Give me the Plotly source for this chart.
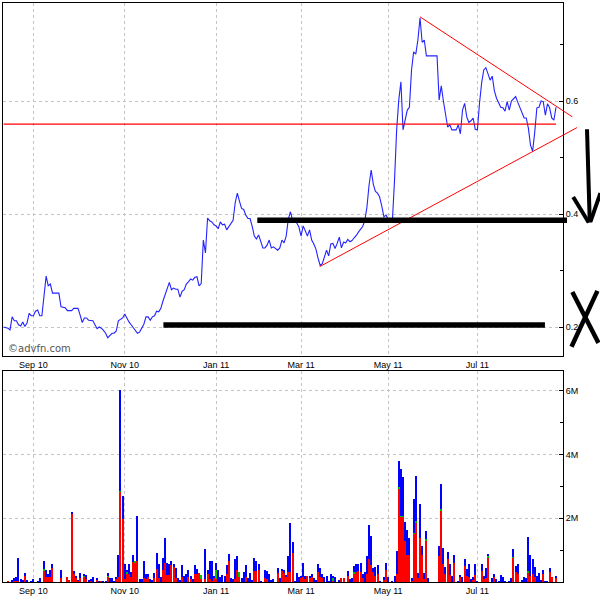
import numpy as np
import pandas as pd
import plotly.graph_objects as go

# ---------------- data ----------------
START = "2010-08-11"
HOLIDAYS = ["2010-08-30", "2010-12-27", "2010-12-28", "2011-01-03", "2011-04-22",
            "2011-04-25", "2011-04-29", "2011-05-02", "2011-05-30", "2011-08-29"]

TICK_MONTHS = ["2010-09", "2010-11", "2011-01", "2011-03", "2011-05", "2011-07"]
TICK_LABELS = ["Sep 10", "Nov 10", "Jan 11", "Mar 11", "May 11", "Jul 11"]

PRICE = [
    0.200, 0.199, 0.198, 0.195, 0.218, 0.211, 0.211, 0.204, 0.202, 0.209,
    0.201, 0.207, 0.224, 0.220, 0.220, 0.228, 0.230, 0.220, 0.220, 0.255,
    0.290, 0.273, 0.276, 0.260, 0.260, 0.260, 0.260, 0.236, 0.235, 0.234,
    0.229, 0.229, 0.229, 0.233, 0.233, 0.233, 0.221, 0.208, 0.216, 0.216,
    0.212, 0.211, 0.211, 0.204, 0.197, 0.200, 0.198, 0.194, 0.189, 0.181,
    0.186, 0.189, 0.189, 0.193, 0.211, 0.214, 0.216, 0.223, 0.215, 0.209,
    0.204, 0.199, 0.193, 0.189, 0.191, 0.197, 0.205, 0.218, 0.218, 0.212,
    0.218, 0.220, 0.228, 0.227, 0.233, 0.246, 0.258, 0.270, 0.279, 0.266,
    0.269, 0.267, 0.267, 0.253, 0.263, 0.266, 0.276, 0.280, 0.285, 0.283,
    0.288, 0.289, 0.273, 0.277, 0.354, 0.331, 0.393, 0.388, 0.386, 0.381,
    0.379, 0.374, 0.386, 0.381, 0.382, 0.372, 0.378, 0.382, 0.389, 0.420,
    0.437, 0.423, 0.410, 0.408, 0.398, 0.392, 0.392, 0.378, 0.361, 0.356,
    0.363, 0.352, 0.340, 0.340, 0.345, 0.354, 0.340, 0.342, 0.339, 0.336,
    0.340, 0.354, 0.349, 0.361, 0.391, 0.404, 0.389, 0.386, 0.384, 0.377,
    0.361, 0.379, 0.369, 0.361, 0.372, 0.354, 0.347, 0.338, 0.322, 0.309,
    0.312, 0.324, 0.336, 0.326, 0.347, 0.348, 0.339, 0.348, 0.359, 0.340,
    0.350, 0.349, 0.355, 0.351, 0.353, 0.358, 0.362, 0.368, 0.374, 0.378,
    0.388, 0.412, 0.451, 0.478, 0.453, 0.440, 0.437, 0.430, 0.414, 0.395,
    0.398, 0.391, 0.389, 0.389, 0.460, 0.549, 0.602, 0.634, 0.549, 0.566,
    0.584, 0.589, 0.655, 0.687, 0.683, 0.708, 0.747, 0.704, 0.708, 0.680,
    0.680, 0.680, 0.680, 0.680, 0.680, 0.602, 0.627, 0.600, 0.572, 0.554,
    0.558, 0.549, 0.549, 0.549, 0.558, 0.542, 0.584, 0.596, 0.572, 0.562,
    0.565, 0.570, 0.550, 0.549, 0.596, 0.632, 0.655, 0.659, 0.648, 0.637,
    0.644, 0.618, 0.605, 0.596, 0.589, 0.588, 0.582, 0.599, 0.584, 0.600,
    0.604, 0.608, 0.598, 0.589, 0.579, 0.570, 0.570, 0.552, 0.522, 0.511,
    0.545, 0.588, 0.589, 0.600, 0.599, 0.575, 0.595, 0.588, 0.570, 0.566,
    0.589,
]

# volume in millions of shares
VOL_TOTAL = [
    0, 0, 0.03, 0, 0.07, 0.14, 0.18, 0.75, 0.10, 0.08,
    0.30, 0.08, 0, 0.05, 0.10, 0, 0.02, 0.14, 0, 0.68,
    0.37, 0.26, 0.40, 0.58, 0, 0, 0, 0.40, 0, 0,
    0.18, 0.07, 2.18, 0.34, 0.21, 0.07, 0.30, 0, 0.26, 0.24,
    0.07, 0.10, 0.18, 0, 0.14, 0.05, 0.05, 0.03, 0.05, 0.30,
    0.14, 0.14, 0.05, 0.18, 0.87, 6.02, 2.70, 0.58, 0.40, 0.56,
    0.32, 0.87, 0.66, 2.07, 0.10, 0.10, 0.68, 0.26, 0.26, 0.10,
    0.07, 0.28, 0.93, 0.56, 0.16, 0.77, 1.40, 0.61, 0.58, 0.68,
    0.58, 0.45, 0.14, 0.07, 0.53, 0.21, 0.26, 0.37, 0.21, 0.10,
    0.53, 0.42, 0.28, 0.24, 0, 1.03, 0.40, 0.68, 0.68, 0.21,
    0.61, 0.37, 0.16, 0.24, 0.21, 0.53, 0.90, 0.14, 0.10, 0.72,
    0.81, 0.31, 0.14, 0.31, 0.53, 0.14, 0.29, 0.07, 0.77, 0.68,
    0.58, 0.05, 0, 0.37, 0.35, 0.26, 0.07, 0.10, 0, 0.45,
    0.14, 0.43, 0.37, 0.24, 0.84, 1.86, 1.26, 0.05, 0.29, 0.18,
    0.21, 0.60, 0.21, 0.21, 0.21, 0.26, 0.13, 0.08, 0.58, 0.46,
    0.26, 0.16, 0.21, 0.05, 0.26, 0.18, 0.18, 0, 0.08, 0.13,
    0.13, 0, 0.34, 0.11, 0.13, 0.50, 0.56, 0.58, 0.62, 0.26,
    0.32, 0.81, 1.79, 1.44, 0.45, 0.47, 0.53, 0.05, 0, 0.16,
    0.62, 0.16, 0, 0.03, 0.21, 0.98, 3.82, 3.55, 3.30, 1.90,
    1.65, 1.40, 0.15, 2.60, 3.32, 0.30, 2.47, 1.13, 0.30, 1.61,
    0.15, 0, 0, 0, 0, 1.13, 3.08, 1.07, 0.47, 0.95,
    0.58, 0.19, 0.87, 0, 0.05, 0.23, 0.16, 0.72, 0.42, 0.56,
    0.10, 0.16, 0.56, 0.03, 0, 0.56, 0.21, 0.44, 0.90, 0,
    0.13, 0.26, 0.10, 0.05, 0.24, 0.18, 0.05, 0, 0.05, 0.13,
    1.04, 0.50, 0.58, 0, 0.07, 0.18, 0.13, 1.42, 0.87, 0.72,
    0.47, 0.21, 0.29, 0.08, 0.40, 0.05, 0.05, 0.44, 0.16, 0,
    0.18,
]

VOL_RED = [
    0, 0, 0.03, 0, 0, 0.03, 0.05, 0.05, 0, 0,
    0.20, 0, 0, 0, 0, 0, 0, 0, 0, 0.37,
    0.16, 0.16, 0.16, 0.45, 0, 0, 0, 0.14, 0, 0,
    0.18, 0.07, 2.16, 0.26, 0.14, 0.05, 0.14, 0, 0.18, 0.10,
    0, 0.07, 0, 0, 0.07, 0, 0.05, 0, 0, 0.17,
    0, 0, 0, 0.10, 0.18, 2.84, 2.00, 0.10, 0.26, 0.26,
    0.18, 0.63, 0.63, 0.68, 0, 0, 0.14, 0.10, 0.16, 0,
    0, 0.14, 0.42, 0.14, 0, 0.37, 0.60, 0.24, 0.24, 0.53,
    0.47, 0.14, 0, 0, 0.18, 0, 0, 0.16, 0.10, 0,
    0.26, 0.26, 0.28, 0.10, 0, 0.10, 0.26, 0.10, 0.05, 0.14,
    0.10, 0, 0, 0, 0, 0.26, 0.66, 0, 0, 0.10,
    0.37, 0.16, 0, 0, 0.18, 0, 0, 0, 0.34, 0.35,
    0.39, 0, 0, 0.14, 0.10, 0, 0, 0, 0, 0.28,
    0, 0.37, 0.31, 0.16, 0.32, 0.32, 0.92, 0, 0, 0,
    0.16, 0.16, 0.10, 0.21, 0.16, 0.16, 0, 0, 0.32, 0.16,
    0.14, 0, 0, 0, 0, 0.05, 0, 0, 0, 0.13,
    0.13, 0, 0.21, 0, 0, 0.26, 0.32, 0.35, 0.32, 0.14,
    0, 0.26, 0.74, 0.53, 0.32, 0.21, 0.26, 0, 0, 0.10,
    0.37, 0, 0, 0, 0, 0.26, 2.95, 2.05, 2.05, 1.30,
    0.85, 0.85, 0.05, 1.52, 1.88, 0.15, 1.38, 0.86, 0.10, 1.32,
    0, 0, 0, 0, 0, 0.84, 2.26, 0.58, 0.26, 0.72,
    0.23, 0, 0.60, 0, 0, 0.16, 0, 0.50, 0.21, 0.16,
    0, 0.10, 0.23, 0, 0, 0.35, 0.10, 0.13, 0.79, 0,
    0, 0.16, 0, 0, 0, 0, 0, 0, 0, 0,
    0.77, 0.32, 0.26, 0, 0, 0, 0, 0.32, 0.21, 0.26,
    0.16, 0, 0, 0, 0.26, 0, 0, 0.32, 0.16, 0,
    0.14,
]

# thin green slivers (day index -> millions)
VOL_GREEN_DAYS = [19, 33, 38, 49, 55, 58, 62, 93, 100, 111, 155, 165, 186, 187, 188,
                  193, 194, 199, 206, 228, 240, 247, 253]
VOL_GREEN_VALS = [0.04, 0.03, 0.03, 0.03, 0.03, 0.08, 0.03, 0.14, 0.27, 0.15, 0.10, 0.05, 0.04, 0.03, 0.03,
                  0.04, 0.04, 0.03, 0.04, 0.03, 0.03, 0.03, 0.03]

# hand-drawn annotations, in (trading-day index, price) units
H_LINE = dict(days=(0, 260), price=0.559)
TREND_UPPER = [(196, 0.749), (267.7, 0.572)]
TREND_LOWER = [(148.8, 0.307), (269.9, 0.553)]
BLACK_UPPER = [(119.4, 0.389), (265.2, 0.389)]
BLACK_LOWER = [(75.2, 0.2035), (254.8, 0.2035)]
ARROW = [[(274.6, 0.550), (275.9, 0.385)],
         [(268.1, 0.430), (275.4, 0.385)],
         [(280.9, 0.437), (276.2, 0.386)]]
CROSS = [[(267.7, 0.262), (280.0, 0.172)],
         [(279.5, 0.264), (267.3, 0.165)]]

# ---------------- axes geometry ----------------
X_RANGE = [-0.3, 263.3]
P_RANGE = [0.1487, 0.7735]
V_RANGE = [0, 6.63]
UPPER_DOMAIN = [0.3903, 1.0]
LOWER_DOMAIN = [0.0, 0.3649]

n = len(PRICE)
x = np.arange(n)
bd = pd.bdate_range(START, periods=n + 40)
bd = bd[~bd.isin(pd.to_datetime(HOLIDAYS))][:n]
tickvals = [int(np.argmax(bd >= pd.Timestamp(m + "-01"))) for m in TICK_MONTHS]
date_txt = [d.strftime("%d %b %Y") for d in bd]

green = np.zeros(n)
for d, v in zip(VOL_GREEN_DAYS, VOL_GREEN_VALS):
    green[d] = v
red = np.array(VOL_RED, dtype=float)
blue = np.clip(np.array(VOL_TOTAL, dtype=float) - red - green, 0, None)


def pxx(day):
    return (day - X_RANGE[0]) / (X_RANGE[1] - X_RANGE[0])


def pyy(price):
    return UPPER_DOMAIN[0] + (price - P_RANGE[0]) / (P_RANGE[1] - P_RANGE[0]) * (UPPER_DOMAIN[1] - UPPER_DOMAIN[0])


fig = go.Figure()
fig.add_trace(go.Scatter(x=x, y=PRICE, mode="lines", line=dict(color="#2323ff", width=1.1),
                         customdata=date_txt, hovertemplate="%{customdata}<br>%{y:.3f}<extra></extra>",
                         xaxis="x", yaxis="y", showlegend=False))
for vals, col in [(red, "#ff0000"), (green, "#00c000"), (blue, "#0000ff")]:
    fig.add_trace(go.Bar(x=x, y=vals, width=0.5, marker=dict(color=col, line=dict(width=0)),
                         xaxis="x2", yaxis="y2", showlegend=False, hoverinfo="skip"))

shapes = []
def seg(p0, p1, color, width):
    shapes.append(dict(type="line", xref="paper", yref="paper",
                       x0=pxx(p0[0]), y0=pyy(p0[1]), x1=pxx(p1[0]), y1=pyy(p1[1]),
                       line=dict(color=color, width=width), layer="above"))

seg((H_LINE["days"][0], H_LINE["price"]), (H_LINE["days"][1], H_LINE["price"]), "#ff0000", 1.3)
seg(TREND_UPPER[0], TREND_UPPER[1], "#ff0000", 1)
seg(TREND_LOWER[0], TREND_LOWER[1], "#ff0000", 1)
seg(BLACK_UPPER[0], BLACK_UPPER[1], "#000000", 5.5)
seg(BLACK_LOWER[0], BLACK_LOWER[1], "#000000", 5.5)
for a, b in ARROW:
    seg(a, b, "#000000", 4)
for a, b in CROSS:
    seg(a, b, "#000000", 4.5)

grid = dict(showgrid=True, gridcolor="#c4c4c4", griddash="dot", gridwidth=1)
frame = dict(showline=True, linecolor="black", linewidth=1, mirror=True)
tfont = dict(family="Liberation Sans, Arial, sans-serif", size=9, color="black")

fig.update_layout(
    width=600, height=600, margin=dict(l=3, r=37, t=3, b=18),
    paper_bgcolor="white", plot_bgcolor="white", barmode="stack", bargap=0,
    shapes=shapes, hovermode="closest",
    xaxis=dict(domain=[0, 1], range=X_RANGE, anchor="y", tickvals=tickvals, ticktext=TICK_LABELS,
               ticks="", tickfont=tfont, zeroline=False, **grid, **frame),
    yaxis=dict(domain=UPPER_DOMAIN, range=P_RANGE, anchor="x", side="right",
               tickvals=[0.2, 0.4, 0.6], ticktext=["0.2", "0.4", "0.6"],
               ticks="inside", ticklen=4, tickcolor="black",
               minor=dict(tickvals=[0.3, 0.5, 0.7], ticks="inside", ticklen=3, tickcolor="black", showgrid=False),
               tickfont=tfont, zeroline=False, **grid, **frame),
    xaxis2=dict(domain=[0, 1], range=X_RANGE, anchor="y2", tickvals=tickvals, ticktext=TICK_LABELS,
                ticks="", tickfont=tfont, zeroline=False, **grid, **frame),
    yaxis2=dict(domain=LOWER_DOMAIN, range=V_RANGE, anchor="x2", side="right",
                tickvals=[2, 4, 6], ticktext=["2M", "4M", "6M"],
                ticks="inside", ticklen=4, tickcolor="black",
                minor=dict(tickvals=[1, 3, 5], ticks="inside", ticklen=3, tickcolor="black", showgrid=False),
                tickfont=tfont, zeroline=False, **grid, **frame),
    annotations=[dict(text="©advfn.com", xref="paper", yref="paper", x=0.006, y=pyy(0.6 + (101 - 348) / 565),
                      xanchor="left", yanchor="middle", showarrow=False,
                      font=dict(family="DejaVu Sans, sans-serif", size=10, color="#555555"))],
)

fig.write_html("out.html", config={"displayModeBar": False},
               post_script="document.body.style.margin='0px';document.body.style.overflow='hidden';")
